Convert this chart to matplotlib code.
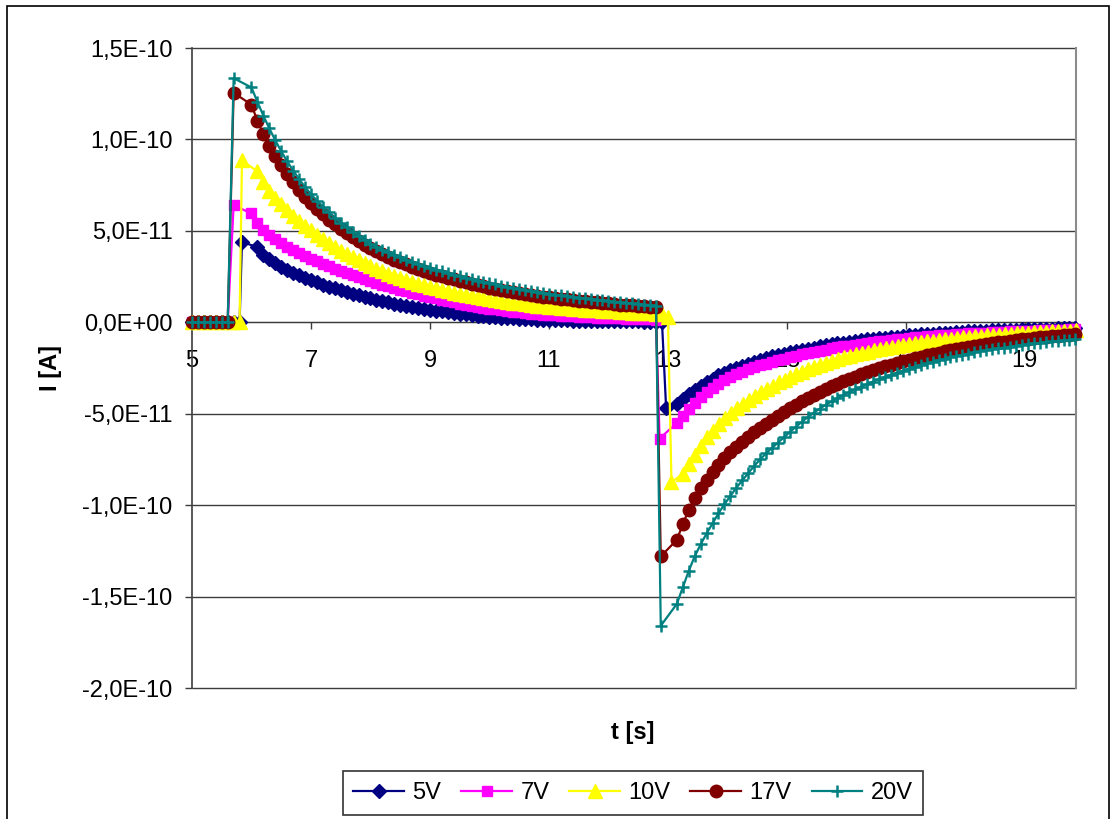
import numpy as np
import matplotlib
matplotlib.use("Agg")
import matplotlib.pyplot as plt
from matplotlib.patches import Rectangle

plt.rcParams['font.family'] = ['Liberation Sans', 'DejaVu Sans']

# ---- series definitions -------------------------------------------------
series_names = ["5V", "7V", "10V", "17V", "20V"]
colors = ["#000080", "#FF00FF", "#FFFF00", "#800000", "#008080"]
markers = ["D", "s", "^", "o", "+"]
marker_sizes = [7.0, 7.5, 9.5, 9.0, 8.5]

# number of zero-current samples (every 0.1 s from t = 5 s) before switch-on
n_zero = [9, 7, 9, 7, 7]
# switch-on sample: time [s] and current [pA]
t_on = [5.84, 5.70, 5.84, 5.70, 5.70]
i_on = [44.0, 64.0, 88.5, 125.5, 133.5]
# first time of the 0.1 s sampled charging decay
decay_start = [6.1, 6.0, 6.1, 6.0, 6.0]
# switch-off sample: time [s] and current [pA]
t_off = [12.97, 12.86, 13.06, 12.88, 12.88]
i_off = [-47.0, -63.6, -87.4, -128.0, -166.0]
# first time of the 0.1 s sampled discharging decay
recover_start = [13.15, 13.15, 13.26, 13.15, 13.15]

# charging current [pA]
on_5V = [41.0, 37.0, 34.5, 32.4, 30.5, 28.8, 27.2, 25.7, 24.3, 23.0,
         21.8, 20.6, 19.5, 18.5, 17.5, 16.5, 15.6, 14.7, 13.9, 13.1,
         12.3, 11.6, 10.9, 10.2, 9.6, 9.0, 8.4, 7.8, 7.3, 6.8,
         6.3, 5.9, 5.5, 5.1, 4.7, 4.3, 4.0, 3.7, 3.4, 3.1,
         2.8, 2.6, 2.4, 2.2, 2.0, 1.8, 1.6, 1.5, 1.4, 1.3,
         1.2, 1.1, 1.0, 0.9, 0.9, 0.8, 0.8, 0.7, 0.7, 0.6,
         0.6, 0.6, 0.5, 0.5, 0.5, 0.4, 0.4, 0.4, 0.4]
on_7V = [59.5, 54.5, 50.5, 47.8, 45.4, 43.2, 41.3, 39.5, 37.8, 36.2,
         34.7, 33.3, 31.9, 30.6, 29.3, 28.1, 26.9, 25.8, 24.7, 23.6,
         22.6, 21.6, 20.6, 19.7, 18.8, 17.9, 17.0, 16.2, 15.4, 14.6,
         13.9, 13.1, 12.3, 11.6, 10.9, 10.2, 9.6, 9.0, 8.5, 7.9,
         7.4, 7.0, 6.6, 6.2, 5.8, 5.4, 5.1, 4.8, 4.5, 4.2,
         4.0, 3.8, 3.6, 3.4, 3.2, 3.0, 2.9, 2.7, 2.6, 2.5,
         2.3, 2.2, 2.1, 2.0, 1.9, 1.8, 1.7, 1.6, 1.5]
on_10V = [82.5, 76.5, 72.0, 68.0, 64.5, 61.3, 58.3, 55.5, 52.8, 50.2,
          47.8, 45.5, 43.3, 41.2, 39.2, 37.3, 35.5, 33.8, 32.2, 30.7,
          29.3, 27.9, 26.6, 25.4, 24.2, 23.1, 22.1, 21.1, 20.2, 19.3,
          18.5, 17.7, 16.9, 16.2, 15.5, 14.9, 14.3, 13.7, 13.1, 12.6,
          12.1, 11.6, 11.1, 10.7, 10.3, 9.9, 9.5, 9.1, 8.8, 8.5,
          8.2, 7.9, 7.6, 7.4, 7.1, 6.9, 6.7, 6.5, 6.3, 6.1,
          5.9, 5.7, 5.5, 5.3, 5.2, 5.0, 4.9, 4.7, 4.5, 3.0]
on_17V = [119.0, 110.0, 103.0, 96.5, 91.0, 86.0, 81.0, 76.5, 72.5, 68.7,
          65.2, 62.0, 59.0, 56.2, 53.5, 51.0, 48.7, 46.5, 44.4, 42.4,
          40.5, 38.8, 37.2, 35.7, 34.3, 33.0, 31.7, 30.5, 29.3, 28.2,
          27.1, 26.1, 25.2, 24.3, 23.4, 22.6, 21.8, 21.0, 20.3, 19.6,
          18.9, 18.3, 17.7, 17.1, 16.5, 16.0, 15.5, 15.0, 14.5, 14.1,
          13.7, 13.3, 12.9, 12.5, 12.1, 11.8, 11.5, 11.2, 10.9, 10.6,
          10.3, 10.0, 9.7, 9.4, 9.2, 8.9, 8.7, 8.5, 8.2]
on_20V = [128.4, 120.5, 113.0, 106.0, 99.5, 93.5, 88.0, 83.0, 78.3, 74.0,
          70.0, 66.5, 63.2, 60.1, 57.2, 54.5, 52.0, 49.6, 47.3, 45.1,
          43.0, 41.3, 39.7, 38.2, 36.8, 35.5, 34.2, 33.0, 31.9, 30.8,
          29.8, 28.8, 27.9, 27.0, 26.1, 25.2, 24.4, 23.6, 22.8, 22.1,
          21.4, 20.7, 20.0, 19.4, 18.8, 18.2, 17.6, 17.1, 16.6, 16.1,
          15.6, 15.1, 14.7, 14.3, 13.9, 13.5, 13.1, 12.7, 12.3, 12.0,
          11.6, 11.3, 11.0, 10.6, 10.3, 10.0, 9.7, 9.4, 9.1]

# discharging current [pA]
off_5V = [-44.8, -42.0, -39.3, -36.9, -34.7, -32.7, -30.8, -29.1, -27.6, -26.2,
          -24.9, -23.7, -22.6, -21.5, -20.5, -19.6, -18.7, -17.9, -17.1, -16.4,
          -15.7, -15.0, -14.4, -13.8, -13.2, -12.6, -12.1, -11.6, -11.1, -10.7,
          -10.2, -9.8, -9.4, -9.0, -8.7, -8.4, -8.1, -7.8, -7.5, -7.2,
          -6.9, -6.6, -6.4, -6.2, -6.0, -5.8, -5.6, -5.4, -5.2, -5.0,
          -4.9, -4.7, -4.6, -4.4, -4.3, -4.2, -4.1, -4.0, -3.9, -3.8,
          -3.7, -3.6, -3.5, -3.4, -3.3, -3.2, -3.1, -3.0]
off_7V = [-55.0, -51.2, -47.3, -44.0, -40.8, -38.2, -35.8, -33.7, -31.8, -30.0,
          -28.5, -27.1, -25.8, -24.7, -23.6, -22.6, -21.7, -20.8, -20.0, -19.2,
          -18.4, -17.6, -16.9, -16.2, -15.5, -14.9, -14.3, -13.7, -13.2, -12.7,
          -12.2, -11.7, -11.2, -10.8, -10.4, -10.0, -9.6, -9.2, -8.9, -8.6,
          -8.3, -8.0, -7.7, -7.4, -7.2, -6.9, -6.7, -6.5, -6.3, -6.1,
          -5.9, -5.7, -5.6, -5.4, -5.3, -5.1, -5.0, -4.9, -4.7, -4.6,
          -4.5, -4.4, -4.3, -4.2, -4.1, -4.0, -3.9, -3.8]
off_10V = [-82.8, -77.5, -72.5, -67.5, -63.0, -59.3, -55.8, -52.6, -49.7, -47.0,
           -44.6, -42.4, -40.3, -38.3, -36.4, -34.6, -32.9, -31.3, -29.8, -28.4,
           -27.0, -25.7, -24.5, -23.3, -22.2, -21.1, -20.1, -19.2, -18.3, -17.5,
           -16.7, -16.0, -15.3, -14.6, -14.0, -13.4, -12.8, -12.3, -11.8, -11.3,
           -10.8, -10.4, -10.0, -9.6, -9.2, -8.9, -8.6, -8.3, -8.0, -7.7,
           -7.4, -7.2, -6.9, -6.7, -6.5, -6.3, -6.1, -5.9, -5.7, -5.5,
           -5.3, -5.1, -5.0, -4.8, -4.7, -4.5, -4.4]
off_17V = [-119.0, -110.5, -102.5, -96.0, -90.5, -86.0, -82.0, -78.0, -74.3, -71.0,
           -68.0, -65.2, -62.6, -60.1, -57.7, -55.4, -53.2, -51.0, -48.9, -46.9,
           -45.0, -43.1, -41.3, -39.6, -38.0, -36.5, -35.0, -33.6, -32.2, -30.9,
           -29.7, -28.5, -27.3, -26.2, -25.1, -24.1, -23.1, -22.2, -21.3, -20.4,
           -19.6, -18.8, -18.0, -17.3, -16.6, -15.9, -15.3, -14.7, -14.1, -13.5,
           -13.0, -12.5, -12.0, -11.5, -11.0, -10.6, -10.2, -9.8, -9.4, -9.0,
           -8.6, -8.3, -7.9, -7.6, -7.3, -7.0, -6.7, -6.4]
off_20V = [-154.0, -145.0, -136.0, -128.0, -121.5, -115.5, -110.0, -104.5, -99.5, -95.0,
           -90.5, -86.5, -82.5, -78.6, -75.0, -71.7, -68.7, -65.8, -63.0, -60.0,
           -57.2, -54.5, -51.9, -49.5, -47.3, -45.2, -43.3, -41.5, -39.8, -38.2,
           -36.7, -35.2, -33.8, -32.4, -31.1, -29.9, -28.7, -27.6, -26.5, -25.4,
           -24.4, -23.4, -22.5, -21.6, -20.8, -20.0, -19.2, -18.5, -17.8, -17.1,
           -16.5, -15.9, -15.3, -14.8, -14.3, -13.8, -13.3, -12.8, -12.4, -12.0,
           -11.6, -11.2, -10.8, -10.5, -10.2, -9.9, -9.6, -9.3]

on_values = [on_5V, on_7V, on_10V, on_17V, on_20V]
off_values = [off_5V, off_7V, off_10V, off_17V, off_20V]

# axis ticks
x_ticks = [5, 7, 9, 11, 13, 15, 17, 19]
x_tick_labels = ["5", "7", "9", "11", "13", "15", "17", "19"]
y_ticks = [1.5e-10, 1.0e-10, 5.0e-11, 0.0, -5.0e-11, -1.0e-10, -1.5e-10, -2.0e-10]
y_tick_labels = ["1,5E-10", "1,0E-10", "5,0E-11", "0,0E+00",
                 "-5,0E-11", "-1,0E-10", "-1,5E-10", "-2,0E-10"]
x_limits = (5.0, 19.86)
y_limits = (-2.0e-10, 1.5e-10)


def series(k):
    dt = 0.1
    t = np.concatenate([
        5.0 + dt * np.arange(n_zero[k]),
        [t_on[k]],
        decay_start[k] + dt * np.arange(len(on_values[k])),
        [t_off[k]],
        recover_start[k] + dt * np.arange(len(off_values[k])),
    ])
    i = np.concatenate([
        np.zeros(n_zero[k]),
        [i_on[k]],
        on_values[k],
        [i_off[k]],
        off_values[k],
    ]) * 1e-12
    return t, i


W, H = 1116, 819
fig = plt.figure(figsize=(W / 100, H / 100), dpi=100)
fig.patch.set_facecolor("white")

left, right, top, bottom = 192, 1076, 48, 688
ax = fig.add_axes([left / W, 1 - bottom / H, (right - left) / W, (bottom - top) / H])
ax.set_facecolor("white")

# horizontal grid lines (also frame the top and bottom of the plot area)
ax.hlines(y_ticks, x_limits[0], x_limits[1], colors="#3c3c3c", lw=1.0,
          zorder=0.5, clip_on=False)

for k, name in enumerate(series_names):
    t, i = series(k)
    mew = 1.8 if markers[k] == "+" else 1.0
    ax.plot(t, i, color=colors[k], lw=1.6, marker=markers[k],
            ms=marker_sizes[k], mfc=colors[k], mec=colors[k], mew=mew,
            label=name, clip_on=False, zorder=3 + k)

ax.set_xlim(*x_limits)
ax.set_ylim(*y_limits)
ax.set_xticks(x_ticks)
ax.set_xticklabels(x_tick_labels)
ax.set_yticks(y_ticks)
ax.set_yticklabels(y_tick_labels)

ax.spines["bottom"].set_position(("data", 0.0))
ax.spines["bottom"].set_color("#3c3c3c")
ax.spines["top"].set_visible(False)
ax.spines["left"].set_color("#3c3c3c")
ax.spines["left"].set_linewidth(1.2)
ax.spines["right"].set_color("#8c8c8c")
ax.spines["right"].set_linewidth(1.5)

ax.tick_params(axis="x", direction="out", length=5, width=1.0, color="#3c3c3c",
               pad=15, labelsize=17)
ax.tick_params(axis="y", direction="out", length=5, width=1.0, color="#3c3c3c",
               pad=9, labelsize=17)

fig.text(633 / W, 1 - 732 / H, "t [s]", ha="center", va="center",
         fontsize=17, fontweight="bold")
fig.text(50 / W, 1 - 368 / H, "I [A]", ha="center", va="center",
         fontsize=17, fontweight="bold", rotation=90)

leg = ax.legend(loc="center", bbox_to_anchor=(633 / W, 1 - 793 / H),
                bbox_transform=fig.transFigure, ncol=5, frameon=True,
                fancybox=False, edgecolor="black", fontsize=17,
                handlelength=2.15, handletextpad=0.35, columnspacing=0.85,
                borderpad=0.45, borderaxespad=0.0, numpoints=1)
leg.get_frame().set_linewidth(1.2)

# outer chart border
fig.patches.append(Rectangle((7 / W, -0.05), (1109 - 7) / W, 1.05 - 6 / H,
                             transform=fig.transFigure, fill=False,
                             edgecolor="black", lw=1.2))

fig.savefig("out.png", dpi=100, facecolor="white")
